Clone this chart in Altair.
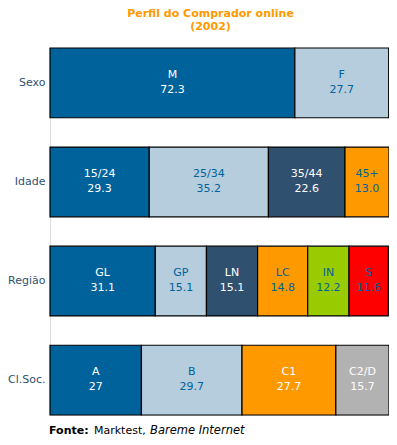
import altair as alt
import pandas as pd

# ---- data ----
rows = ["Sexo", "Idade", "Região", "Cl.Soc."]
sexo_cats = ["M", "F"]
sexo_vals = [72.3, 27.7]
idade_cats = ["15/24", "25/34", "35/44", "45+"]
idade_vals = [29.3, 35.2, 22.6, 13.0]
regiao_cats = ["GL", "GP", "LN", "LC", "IN", "S"]
regiao_vals = [31.1, 15.1, 15.1, 14.8, 12.2, 11.6]
clsoc_cats = ["A", "B", "C1", "C2/D"]
clsoc_vals = [27, 29.7, 27.7, 15.7]
value_labels = {
    "Sexo": ["72.3", "27.7"],
    "Idade": ["29.3", "35.2", "22.6", "13.0"],
    "Região": ["31.1", "15.1", "15.1", "14.8", "12.2", "11.6"],
    "Cl.Soc.": ["27", "29.7", "27.7", "15.7"],
}

# ---- styles ----
DARK = "#00629B"
LIGHT = "#B5CDDC"
SLATE = "#30506F"
ORANGE = "#FF9900"
GREEN = "#99CC00"
RED = "#FF0000"
GREY = "#B2B2B2"
fills = {
    "Sexo": [DARK, LIGHT],
    "Idade": [DARK, LIGHT, SLATE, ORANGE],
    "Região": [DARK, LIGHT, SLATE, ORANGE, GREEN, RED],
    "Cl.Soc.": [DARK, LIGHT, ORANGE, GREY],
}
W, B = "#FFFFFF", "#00629B"
textcols = {
    "Sexo": [W, B],
    "Idade": [W, B, W, B],
    "Região": [W, B, W, B, B, B],
    "Cl.Soc.": [W, B, W, W],
}

series = {
    "Sexo": (sexo_cats, sexo_vals),
    "Idade": (idade_cats, idade_vals),
    "Região": (regiao_cats, regiao_vals),
    "Cl.Soc.": (clsoc_cats, clsoc_vals),
}

recs = []
for r in rows:
    cats, vals = series[r]
    start = 0.0
    for i, (c, v) in enumerate(zip(cats, vals)):
        recs.append({
            "row": r, "cat": c, "value": v, "vlabel": value_labels[r][i],
            "x0": start, "x1": start + v, "mid": start + v / 2,
            "fill": fills[r][i], "tcol": textcols[r][i],
        })
        start += v
df = pd.DataFrame(recs)

FONT = "DejaVu Sans"
PAD_LEFT, PAD_RIGHT = 42, 0
WIDTH = 381 - PAD_LEFT - PAD_RIGHT   # whole svg stays inside the 397px window
HEIGHT = 367
PAD_TOP = 40
PAD_BOTTOM = 428 - PAD_TOP - HEIGHT  # whole page stays inside 445px

yenc = alt.Y("row:N", sort=rows,
             scale=alt.Scale(paddingInner=0.296, paddingOuter=0),
             axis=alt.Axis(title=None, domain=False, ticks=False, grid=False,
                           labelPadding=5, labelLimit=0, labelFont=FONT,
                           labelFontSize=11, labelColor="#30506F"))
xscale = alt.Scale(domain=[0, 100.1], nice=False, zero=True)

base = alt.Chart(df)

bars = base.mark_bar(stroke="#000000", strokeWidth=1.2, cornerRadius=0).encode(
    x=alt.X("x0:Q", scale=xscale, axis=None),
    x2="x1:Q",
    y=yenc,
    fill=alt.Fill("fill:N", scale=None),
)

lab = base.mark_text(font=FONT, fontSize=11, dy=-8).encode(
    x=alt.X("mid:Q", scale=xscale, axis=None),
    y=alt.Y("row:N", sort=rows),
    text="cat:N",
    color=alt.Color("tcol:N", scale=None),
)
val = base.mark_text(font=FONT, fontSize=11, dy=7).encode(
    x=alt.X("mid:Q", scale=xscale, axis=None),
    y=alt.Y("row:N", sort=rows),
    text="vlabel:N",
    color=alt.Color("tcol:N", scale=None),
)

foot_df = pd.DataFrame({"t": [0]})
FY = HEIGHT + 19
f1 = alt.Chart(foot_df).mark_text(font=FONT, fontSize=11, fontWeight="bold", align="left",
                                  baseline="alphabetic", color="#000000").encode(
    x=alt.value(-1), y=alt.value(FY), text=alt.value("Fonte:"))
f2 = alt.Chart(foot_df).mark_text(font=FONT, fontSize=11, align="left",
                                  baseline="alphabetic", color="#000000").encode(
    x=alt.value(44), y=alt.value(FY), text=alt.value("Marktest,"))
f3 = alt.Chart(foot_df).mark_text(font=FONT, fontSize=11.5, fontStyle="italic", align="left",
                                  baseline="alphabetic", color="#000000").encode(
    x=alt.value(100), y=alt.value(FY), text=alt.value("Bareme Internet"))

chart = alt.layer(bars, lab, val, f1, f2, f3).properties(
    width=WIDTH, height=HEIGHT,
    autosize=alt.AutoSizeParams(type="none"),
    padding={"left": PAD_LEFT, "top": PAD_TOP, "right": PAD_RIGHT, "bottom": PAD_BOTTOM},
    title=alt.Title(["Perfil do Comprador online", "(2002)"], font=FONT, fontSize=11,
                    fontWeight="bold", color=ORANGE, anchor="middle", dx=-9,
                    offset=15, lineHeight=13),
).configure_view(stroke=None, strokeWidth=0).configure_axis(
    domain=False, grid=False, ticks=False
).configure(background="#FFFFFF")

chart.save("out.html", embed_options={"renderer": "svg", "actions": False})
